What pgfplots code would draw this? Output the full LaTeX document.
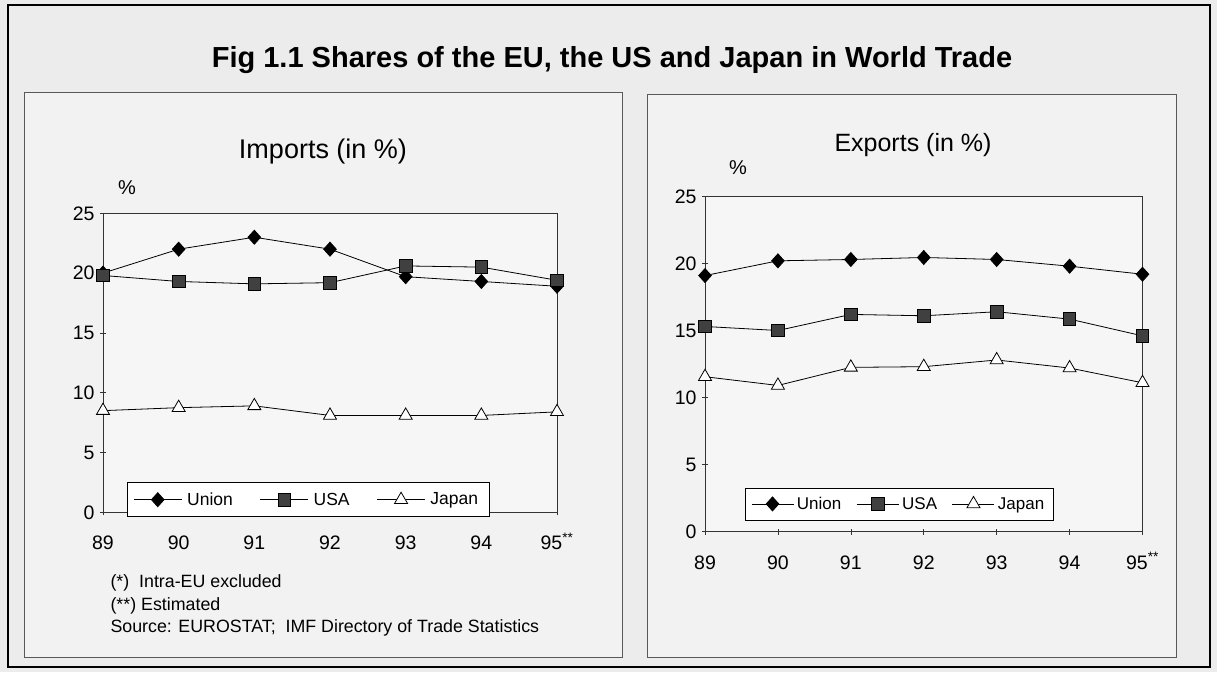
\documentclass[border=0pt]{standalone}
\usepackage{fontspec}
\setmainfont{Liberation Sans}
\usepackage{pgfplots}
\pgfplotsset{compat=1.18}
\definecolor{bgout}{HTML}{ECECEC}
\definecolor{panelbg}{HTML}{F2F2F2}
\definecolor{plotbg}{HTML}{F6F6F6}
\definecolor{usafill}{HTML}{404040}
\pgfplotsset{
  tradeax/.style={
    scale only axis, clip=false,
    xmin=0, xmax=6, ymin=0, ymax=25,
    xtick={0,...,6},
    xticklabels={89,90,91,92,93,94,95\textsuperscript{**}},
    ytick={0,5,...,25},
    axis background/.style={fill=plotbg},
    axis line style={black!80, line width=0.6pt},
    tick style={black!80, line width=0.6pt},
    tick align=center, major tick length=6pt,
    xtick pos=bottom, ytick pos=left,
    ticklabel style={font=\fontsize{19.5}{21}\selectfont},
    xticklabel style={text height=14pt, text depth=0pt, yshift=-17pt},
    yticklabel style={xshift=-2pt},
    /pgf/number format/assume math mode=true,
    legend columns=3,
    legend cell align=left,
    legend style={draw=black, line width=0.6pt, fill=white,
      font=\fontsize{17.5}{19}\selectfont, inner xsep=6pt, inner ysep=8pt,
      nodes={inner xsep=5pt}},
  },
  union/.style={black, line width=0.8pt, mark=diamond*, mark size=7pt,
    mark options={fill=black, solid, xscale=1.2}},
  usa/.style={black, line width=0.8pt, mark=square*, mark size=6.3pt,
    mark options={fill=usafill, draw=black, solid}},
  japan/.style={black, line width=0.8pt, mark=triangle*, mark size=7.5pt,
    mark options={fill=white, draw=black, solid}},
}
\begin{document}
\begin{tikzpicture}
\fill[bgout] (0pt,0pt) rectangle (1217pt,-672pt);
\draw[black, line width=1.5pt] (8pt,-5pt) rectangle (1210pt,-667pt);
\fill[panelbg] (24pt,-92pt) rectangle (622pt,-657pt);
\draw[black!65, line width=0.8pt] (24pt,-92pt) rectangle (622pt,-657pt);
\fill[panelbg] (647pt,-94pt) rectangle (1176pt,-657pt);
\draw[black!65, line width=0.8pt] (647pt,-94pt) rectangle (1176pt,-657pt);

\node at (612pt,-60pt) {\fontsize{29}{34}\selectfont\bfseries Fig 1.1 Shares of the EU, the US and Japan in World Trade};
\node at (323pt,-152pt) {\fontsize{27}{31}\selectfont Imports (in \%)};
\node at (127pt,-188pt) {\fontsize{20}{22}\selectfont \%};
\node at (913pt,-145pt) {\fontsize{25}{29}\selectfont Exports (in \%)};
\node at (738pt,-168pt) {\fontsize{20}{22}\selectfont \%};

\node[anchor=west, font=\fontsize{17.8}{20}\selectfont] at (107pt,-583pt) {(*)~ Intra-EU excluded};
\node[anchor=west, font=\fontsize{17.8}{20}\selectfont] at (107pt,-606pt) {(**) Estimated};
\node[anchor=west, font=\fontsize{17.8}{20}\selectfont] at (107pt,-628pt) {Source: EUROSTAT;~ IMF Directory of Trade Statistics};

% Imports
\begin{axis}[tradeax, at={(103pt,-512.3pt)}, anchor=south west,
  width=454pt, height=299pt,
  legend image code/.code={%
      \draw[mark repeat=2, mark phase=2, #1]
        plot coordinates {(0pt,0pt) (24pt,0pt) (48pt,0pt)};},
  legend style={at={(0.053,-0.016)}, anchor=south west,
    /tikz/every even column/.append style={column sep=22pt}}]
\addplot[union] coordinates {(0,20.0) (1,22.0) (2,23.0) (3,22.0) (4,19.7) (5,19.3) (6,18.9)};
\addlegendentry{Union}
\addplot[usa] coordinates {(0,19.8) (1,19.3) (2,19.1) (3,19.2) (4,20.6) (5,20.5) (6,19.4)};
\addlegendentry{USA}
\addplot[japan] coordinates {(0,8.5) (1,8.75) (2,8.9) (3,8.1) (4,8.1) (5,8.1) (6,8.4)};
\addlegendentry{Japan}
\end{axis}

% Exports
\begin{axis}[tradeax, at={(705pt,-531.5pt)}, anchor=south west,
  width=437.5pt, height=335pt,
  legend image code/.code={%
      \draw[mark repeat=2, mark phase=2, #1]
        plot coordinates {(0pt,0pt) (21pt,0pt) (42pt,0pt)};},
  legend style={at={(0.091,0.034)}, anchor=south west,
    font=\fontsize{17}{19}\selectfont, inner ysep=7pt,
    nodes={inner xsep=3pt},
    /tikz/every even column/.append style={column sep=12pt}}]
\addplot[union] coordinates {(0,19.1) (1,20.2) (2,20.3) (3,20.45) (4,20.3) (5,19.8) (6,19.2)};
\addlegendentry{Union}
\addplot[usa] coordinates {(0,15.3) (1,15.0) (2,16.2) (3,16.1) (4,16.4) (5,15.85) (6,14.6)};
\addlegendentry{USA}
\addplot[japan] coordinates {(0,11.55) (1,10.9) (2,12.25) (3,12.3) (4,12.8) (5,12.2) (6,11.1)};
\addlegendentry{Japan}
\end{axis}
\end{tikzpicture}
\end{document}
